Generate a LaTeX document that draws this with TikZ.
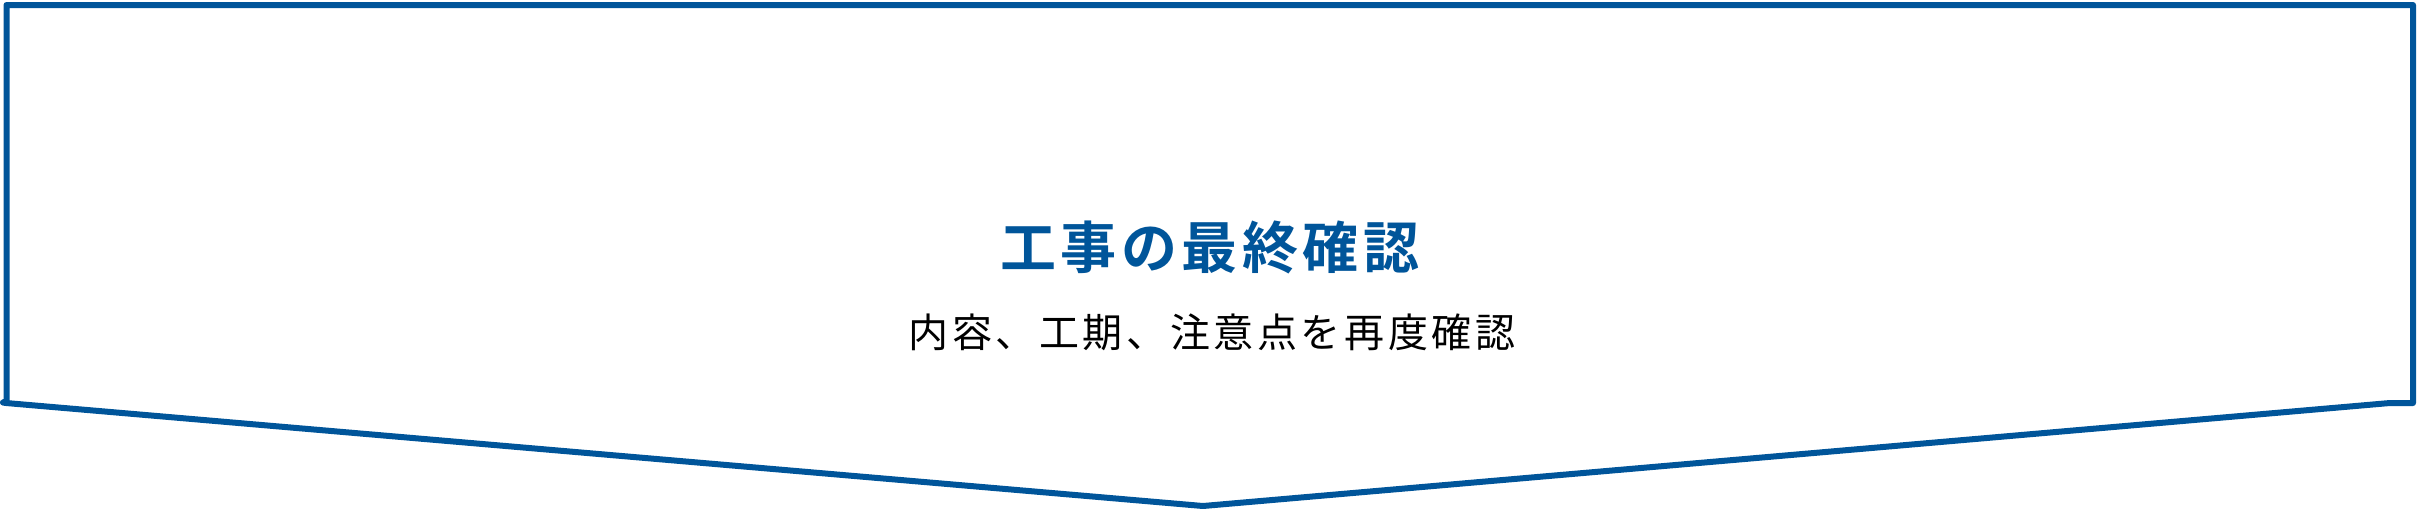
\documentclass[tikz,border=0pt]{standalone}
\usepackage{fontspec}
\newfontfamily\jpbold[LetterSpace=8]{Noto Sans CJK JP Bold}
\newfontfamily\jpreg[LetterSpace=9]{Noto Sans CJK JP}
\definecolor{mainblue}{HTML}{00559A}
\tikzset{
  frame/.style={draw=mainblue, line width=6pt, line join=round, line cap=round},
  titletext/.style={text=mainblue, inner sep=0pt, font=\jpbold\fontsize{56}{60}\selectfont},
  subtext/.style={text=black, inner sep=0pt, font=\jpreg\fontsize{40}{44}\selectfont}
}
\begin{document}
\begin{tikzpicture}[x=1pt,y=-1pt]
\useasboundingbox (0,0) rectangle (2417,512);
\fill[white] (0,0) rectangle (2417,512);
\draw[frame] (6.5,5) -- (2413,5) -- (2413,403) -- (2390,403) -- (1203,506) -- (6,403) -- (3,402.5) -- (6.5,401) -- cycle;
\node[titletext] (title) at (1210,247) {工事の最終確認};
\node[subtext] (sub) at (1212,332) {内容、工期、注意点を再度確認};
\end{tikzpicture}
\end{document}
